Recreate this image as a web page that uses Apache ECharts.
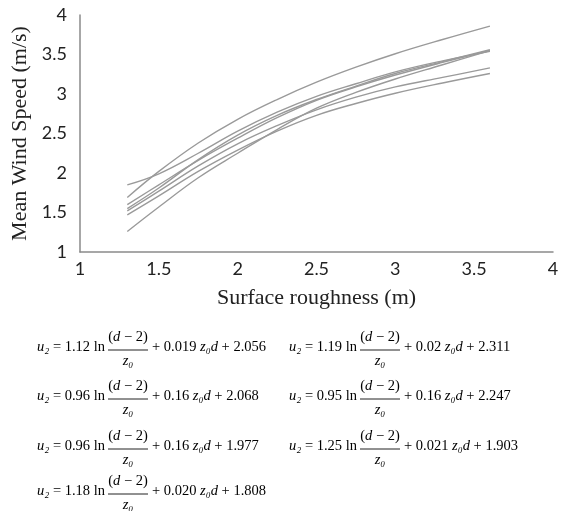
<!DOCTYPE html>
<html>
<head>
<meta charset="utf-8">
<script src="https://cdn.jsdelivr.net/npm/echarts@6/dist/echarts.min.js"></script>
<style>
  html, body { margin: 0; padding: 0; background: #fff; }
  #chart { width: 584px; height: 511px; }
</style>
</head>
<body>
<div id="chart"></div>
<script>
// surface roughness sample points (m)
var roughness = [1.3, 1.5, 1.75, 2, 2.25, 2.5, 2.75, 3, 3.3, 3.6];
// mean wind speed curves (m/s)
var curve1 = [1.69, 2.02, 2.38, 2.68, 2.93, 3.15, 3.34, 3.51, 3.69, 3.86];
var curve2 = [1.85, 1.99, 2.25, 2.53, 2.77, 2.97, 3.13, 3.28, 3.42, 3.54];
var curve3 = [1.60, 1.85, 2.16, 2.44, 2.70, 2.92, 3.09, 3.24, 3.40, 3.55];
var curve4 = [1.52, 1.77, 2.09, 2.37, 2.60, 2.80, 2.96, 3.09, 3.21, 3.33];
var curve5 = [1.47, 1.71, 2.02, 2.29, 2.53, 2.73, 2.88, 3.01, 3.14, 3.26];
var curve6 = [1.26, 1.57, 1.94, 2.25, 2.55, 2.82, 3.02, 3.19, 3.37, 3.55];
var curve7 = [1.55, 1.81, 2.17, 2.48, 2.73, 2.93, 3.10, 3.26, 3.41, 3.56];
var curves = [curve1, curve2, curve3, curve4, curve5, curve6, curve7];

var xTicks = [1, 1.5, 2, 2.5, 3, 3.5, 4];
var yTicks = [1, 1.5, 2, 2.5, 3, 3.5, 4];

// regression equations printed under the chart
var eqA = ['1.12', '1.19', '0.96', '0.95', '0.96', '1.25', '1.18'];
var eqB = ['0.019', '0.02', '0.16', '0.16', '0.16', '0.021', '0.020'];
var eqC = ['2.056', '2.311', '2.068', '2.247', '1.977', '1.903', '1.808'];

var myChart = echarts.init(document.getElementById('chart'));

var series = curves.map(function (c, i) {
    return {
        name: 'curve' + (i + 1),
        type: 'line',
        smooth: 0.4,
        showSymbol: false,
        lineStyle: { color: '#9a9a9a', width: 1.4 },
        data: roughness.map(function (x, j) { return [x, c[j]]; })
    };
});

var serif = '"Liberation Serif", "DejaVu Serif", serif';
var eqRich = {
    i: { fontStyle: 'italic', fontFamily: serif, fontSize: 14.5, fill: '#000' },
    n: { fontFamily: serif, fontSize: 14.5, fill: '#000' }
};

var colX = [37, 289];
var rowY = [348, 397, 447, 492];
var graphics = [];
eqA.forEach(function (a, k) {
    var x0 = colX[k % 2];
    var y0 = rowY[Math.floor(k / 2)];
    graphics.push({
        type: 'text', left: x0, top: y0 - 8,
        style: { text: '{i|u₂}{n| = ' + a + ' ln}', rich: eqRich }
    });
    graphics.push({
        type: 'text', x: x0 + 91, y: y0 - 11,
        style: { text: '{n|(}{i|d}{n| − 2)}', rich: eqRich, align: 'center', verticalAlign: 'middle' }
    });
    graphics.push({
        type: 'line',
        shape: { x1: x0 + 71, y1: y0 + 2, x2: x0 + 111, y2: y0 + 2 },
        style: { stroke: '#222', lineWidth: 1 }
    });
    graphics.push({
        type: 'text', x: x0 + 91, y: y0 + 13,
        style: { text: '{i|z₀}', rich: eqRich, align: 'center', verticalAlign: 'middle' }
    });
    graphics.push({
        type: 'text', left: x0 + 115, top: y0 - 8,
        style: { text: '{n|+ ' + eqB[k] + ' }{i|z₀d}{n| + ' + eqC[k] + '}', rich: eqRich }
    });
});

option = {
    backgroundColor: '#fff',
    animation: false,
    grid: { left: 80, right: 31, top: 15, bottom: 259, containLabel: false },
    xAxis: {
        type: 'value',
        min: 1, max: 4, interval: 0.5,
        name: 'Surface roughness (m)',
        nameLocation: 'middle',
        nameGap: 35,
        nameTextStyle: { fontFamily: serif, fontSize: 22, color: '#222' },
        axisLine: { lineStyle: { color: '#8a8a8a', width: 1.5 } },
        axisTick: { show: false },
        splitLine: { show: false },
        axisLabel: {
            margin: 8, fontSize: 18, color: '#222', fontFamily: 'Lato, "Open Sans", sans-serif',
            formatter: function (v) { return xTicks.indexOf(v) >= 0 ? String(v) : ''; }
        }
    },
    yAxis: {
        type: 'value',
        min: 1, max: 4, interval: 0.5,
        name: 'Mean Wind Speed (m/s)',
        nameLocation: 'middle',
        nameGap: 44,
        nameTextStyle: { fontFamily: serif, fontSize: 22, color: '#222' },
        axisLine: { show: true, lineStyle: { color: '#8a8a8a', width: 1.5 } },
        axisTick: { show: false },
        splitLine: { show: false },
        axisLabel: {
            margin: 13, fontSize: 18, color: '#222', fontFamily: 'Lato, "Open Sans", sans-serif',
            formatter: function (v) { return yTicks.indexOf(v) >= 0 ? String(v) : ''; }
        }
    },
    series: series,
    graphic: graphics
};
myChart.setOption(option);
</script>
</body>
</html>
